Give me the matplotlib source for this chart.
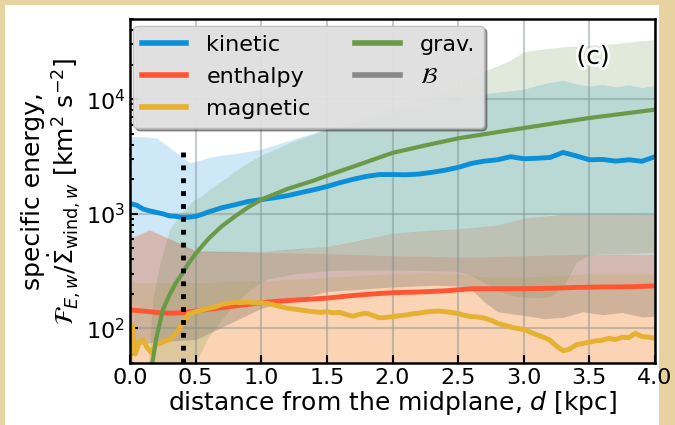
import numpy as np
import matplotlib
matplotlib.use("Agg")
import matplotlib.pyplot as plt
from matplotlib.patches import Rectangle
import matplotlib.patheffects as pe

# median specific energies vs height [kpc]
d_kin = [0.0, 0.05, 0.1, 0.15, 0.2, 0.25, 0.3, 0.35, 0.4, 0.45, 0.5, 0.55, 0.6, 0.7, 0.8, 0.9,
         1.0, 1.1, 1.2, 1.3, 1.4, 1.5, 1.6, 1.7, 1.8, 1.9, 2.0, 2.1, 2.2, 2.3, 2.4, 2.5,
         2.6, 2.7, 2.8, 2.9, 3.0, 3.1, 3.2, 3.3, 3.4, 3.5, 3.6, 3.7, 3.8, 3.9, 4.0]
kinetic = [1230, 1190, 1100, 1060, 1030, 1000, 960, 950, 930, 935, 950, 990, 1040, 1130, 1200, 1280,
           1330, 1380, 1440, 1530, 1620, 1730, 1870, 2000, 2120, 2200, 2200, 2190, 2220, 2300, 2400, 2540,
           2750, 2880, 2960, 3150, 3020, 3050, 3100, 3430, 3200, 2960, 2980, 2880, 2960, 2870, 3150]

d_enth = [0.0, 0.1, 0.2, 0.3, 0.4, 0.5, 0.6, 0.7, 0.8, 0.9, 1.0, 1.1, 1.2, 1.3, 1.4, 1.5,
          1.6, 1.7, 1.8, 1.9, 2.0, 2.2, 2.4, 2.6, 2.8, 3.0, 3.2, 3.4, 3.6, 3.8, 4.0]
enthalpy = [145, 142, 138, 136, 137, 142, 147, 152, 157, 162, 168, 172, 175, 178, 181, 184,
            189, 194, 198, 202, 205, 208, 213, 222, 222, 222, 224, 228, 230, 231, 235]

d_mag = [0.0, 0.02, 0.04, 0.07, 0.1, 0.13, 0.16, 0.2, 0.25, 0.3, 0.35, 0.4, 0.45, 0.5, 0.55, 0.6,
         0.65, 0.7, 0.75, 0.8, 0.85, 0.9, 0.95, 1.0, 1.05, 1.1, 1.15, 1.2, 1.25, 1.3, 1.35, 1.4,
         1.45, 1.5, 1.55, 1.6, 1.65, 1.7, 1.75, 1.8, 1.85, 1.9, 1.95, 2.0, 2.05, 2.1, 2.15, 2.2,
         2.25, 2.3, 2.35, 2.4, 2.45, 2.5, 2.55, 2.6, 2.65, 2.7, 2.75, 2.8, 2.85, 2.9, 2.95, 3.0,
         3.05, 3.1, 3.15, 3.2, 3.25, 3.3, 3.35, 3.4, 3.45, 3.5, 3.55, 3.6, 3.65, 3.7, 3.75, 3.8,
         3.85, 3.9, 3.95, 4.0]
magnetic = [55, 105, 60, 75, 80, 68, 62, 72, 76, 80, 90, 110, 135, 140, 145, 150,
            155, 162, 166, 169, 168, 170, 167, 168, 165, 160, 155, 150, 148, 145, 142, 140,
            138, 140, 137, 138, 132, 128, 133, 136, 130, 124, 125, 127, 129, 131, 134, 136,
            139, 141, 142, 140, 138, 135, 130, 127, 126, 123, 118, 111, 107, 103, 100, 98,
            93, 88, 84, 79, 70, 64, 66, 72, 74, 76, 78, 79, 82, 80, 84, 83,
            91, 85, 84, 82]

d_grav = [0.17, 0.2, 0.25, 0.3, 0.35, 0.4, 0.45, 0.5, 0.6, 0.7, 0.8, 0.9, 1.0, 1.2, 1.4, 1.5,
          1.75, 2.0, 2.25, 2.5, 2.75, 3.0, 3.25, 3.5, 3.75, 4.0]
grav = [50, 82, 145, 195, 250, 303, 375, 450, 610, 780, 950, 1140, 1330, 1650, 1950, 2150,
        2700, 3400, 3950, 4550, 5050, 5600, 6200, 6850, 7450, 8100]

# percentile bands
d_kin_band = [0.0, 0.1, 0.15, 0.2, 0.3, 0.4, 0.45, 0.5, 0.6, 0.7, 0.8, 0.9, 1.0, 1.25, 1.5, 1.75,
              2.0, 2.25, 2.5, 2.7, 2.8, 3.0, 3.1, 3.2, 3.3, 3.4, 3.5, 3.6, 3.7, 3.8, 3.9, 4.0]
kin_lo = [600, 680, 720, 680, 600, 520, 490, 470, 465, 465, 465, 468, 470, 490, 520, 600,
          680, 710, 740, 780, 800, 920, 950, 980, 990, 990, 990, 995, 1000, 995, 990, 990]
kin_hi = [4700, 4700, 4650, 4600, 3800, 3100, 2800, 2850, 3100, 3250, 3350, 3500, 3650, 4500, 5500, 6500,
          7600, 8900, 10400, 11200, 11500, 12200, 13200, 14000, 14600, 13600, 13000, 13400, 12800, 13300, 12600, 13200]

d_grav_band = [0.14, 0.175, 0.23, 0.3, 0.39, 0.48, 0.5, 0.54, 0.6, 0.7, 0.75, 0.8, 0.9, 1.0, 1.05, 1.25,
               1.5, 1.75, 2.0, 2.25, 2.5, 2.6, 2.7, 2.8, 2.9, 3.0, 3.1, 3.2, 3.3, 3.4, 3.5, 3.7, 3.85, 4.0]
grav_lo = [30, 30, 30, 30, 30, 30, 50, 62, 85, 120, 140, 165, 210, 255, 270, 300,
           320, 325, 325, 320, 315, 290, 250, 215, 195, 188, 185, 190, 230, 380, 440, 450, 455, 460]
grav_hi = [50, 187, 372, 725, 1020, 1300, 1350, 1410, 1620, 1950, 2110, 2350, 2800, 3250, 3430, 4300,
           5450, 6800, 8500, 10500, 13000, 15000, 17600, 19500, 22000, 25900, 27000, 27800, 28600, 29000, 29500, 30500, 32000, 33000]

d_band = [0.0, 0.15, 0.3, 0.5, 1.0, 1.5, 2.0, 2.3, 2.5, 2.6, 2.7, 2.8, 3.0, 3.15, 3.3, 3.45,
          3.6, 3.75, 3.9, 4.0]
enth_hi = [620, 730, 610, 480, 460, 450, 430, 425, 420, 420, 420, 425, 430, 435, 440, 445,
           440, 445, 440, 440]
mag_hi = [250, 250, 250, 250, 260, 280, 300, 305, 300, 290, 280, 280, 280, 285, 290, 300,
          300, 300, 300, 300]
bern_lo = [70, 75, 78, 80, 150, 210, 230, 238, 235, 220, 170, 140, 130, 122, 125, 140,
           132, 138, 126, 128]
bern_hi = [600, 720, 600, 470, 470, 520, 680, 720, 740, 760, 780, 800, 920, 960, 990, 990,
           995, 1000, 990, 990]

d_launch = 0.4
ylim = (50, 5e4)

c_kin = '#0a8fd8'
c_enth = '#ff5533'
c_mag = '#e6b030'
c_grav = '#6a9a48'
c_bern = '#888888'

fig = plt.figure(figsize=(6.75, 4.25), dpi=100, facecolor='#e8d3a0')
fig.patches.append(Rectangle((5 / 675, 0), 654 / 675, 420 / 425, transform=fig.transFigure,
                             facecolor='white', edgecolor='none', zorder=-10))
ax = fig.add_axes([0.1926, 0.1459, 0.7778, 0.8094])

band_alpha = 0.2
ax.fill_between(d_kin_band, kin_lo, kin_hi, color=c_kin, alpha=band_alpha, lw=0)
ax.fill_between(d_band, 30, enth_hi, color=c_enth, alpha=band_alpha, lw=0)
ax.fill_between(d_band, 30, mag_hi, color=c_mag, alpha=band_alpha, lw=0)
ax.fill_between(d_grav_band, grav_lo, grav_hi, color=c_grav, alpha=band_alpha, lw=0)
ax.fill_between(d_band, bern_lo, bern_hi, color='#6e6660', alpha=0.3, lw=0)

ax.plot(d_kin, kinetic, color=c_kin, lw=3.5, label='kinetic')
ax.plot(d_enth, enthalpy, color=c_enth, lw=3.5, label='enthalpy')
ax.plot(d_mag, magnetic, color=c_mag, lw=3.5, label='magnetic')
ax.plot(d_grav, grav, color=c_grav, lw=3, label='grav.')
ax.plot([], [], color=c_bern, lw=3.5, label=r'$\mathcal{B}$')

ax.plot([d_launch, d_launch], [ylim[0], 4000], color='k', ls=':', lw=3.5, zorder=5)

ax.set_yscale('log')
ax.set_xlim(0, 4)
ax.set_ylim(*ylim)
ax.set_xticks(np.arange(0, 4.01, 0.5))
ax.grid(True, which='major', color='#7f8f8f', alpha=0.45, lw=1.5)
ax.set_axisbelow('line')
ax.tick_params(which='both', direction='in', labelsize=16, width=1.5)
ax.tick_params(which='major', length=6)
ax.tick_params(which='minor', length=3)
for s in ax.spines.values():
    s.set_linewidth(1.8)
    s.set_zorder(6)

ax.set_xlabel(r'distance from the midplane, $d$ [kpc]', fontsize=18, labelpad=1)
ax.set_ylabel('specific energy,\n' + r'$\mathcal{F}_{E,w}/\dot{\Sigma}_{\rm wind,\mathit{w}}$ [km$^2$ s$^{-2}$]',
              fontsize=18, labelpad=2, linespacing=1.05)

ax.text(0.882, 0.89, '(c)', transform=ax.transAxes, fontsize=18, ha='center', va='center',
        path_effects=[pe.withStroke(linewidth=4, foreground='white')], zorder=7)

leg = ax.legend(ncol=2, loc='upper left', bbox_to_anchor=(0.006, 0.98), borderaxespad=0,
                fontsize=16, handlelength=2.0, handletextpad=0.9, columnspacing=2.0,
                labelspacing=0.55, frameon=True, fancybox=True, shadow=True, framealpha=0.9,
                facecolor='#e8e8e8', edgecolor='#bbbbbb')
for h in leg.legend_handles:
    h.set_linewidth(4)
leg.set_zorder(8)

fig.savefig('out.png', dpi=100, facecolor=fig.get_facecolor())
